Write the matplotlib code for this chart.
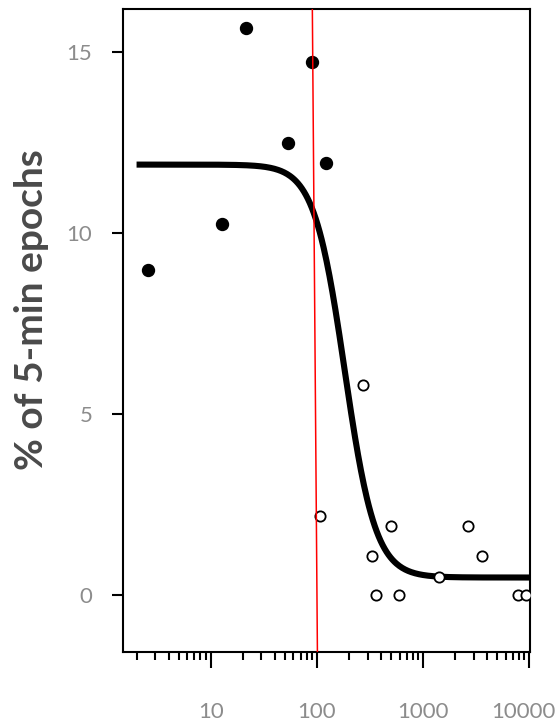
import numpy as np
import matplotlib
matplotlib.use("Agg")
import matplotlib.pyplot as plt
import matplotlib.transforms as mtransforms
from matplotlib.ticker import FixedLocator, NullFormatter

# ---- data ----
filled_x = [2.58, 12.8, 21.7, 53.2, 89.8, 123]
filled_y = [9.0, 10.27, 15.67, 12.50, 14.73, 11.94]

open_x = [107, 273, 328, 358, 495, 594, 1426, 2670, 3550, 7760, 9310]
open_y = [2.20, 5.82, 1.09, 0.0, 1.91, 0.0, 0.51, 1.91, 1.09, 0.0, 0.0]

# fitted log-logistic curve parameters (upper, lower, slope, inflection)
fit_upper = 11.9
fit_lower = 0.49
fit_slope = 3.0
fit_ec50 = 183.0
fit_range = [2, 10000]

# threshold (red) line: x at top and bottom of the plot
thresh_x = [90.5, 101]

x_major = [10, 100, 1000, 10000]
x_major_labels = ["10", "100", "1000", "10000"]
y_major = [0, 5, 10, 15]
ylabel = "% of 5-min epochs"

xlim = (1.49, 10150)
ylim = (-1.56, 16.2)

plt.rcParams['font.family'] = ['Lato', 'DejaVu Sans']

fig = plt.figure(figsize=(5.57, 7.25), dpi=100)
ax = fig.add_axes([0.2208, 0.1011, 0.9515 - 0.2208, 0.9876 - 0.1011])
ax.set_xscale('log')
ax.set_xlim(*xlim)
ax.set_ylim(*ylim)

xs = np.logspace(np.log10(fit_range[0]), np.log10(fit_range[1]), 400)
ys = fit_lower + (fit_upper - fit_lower) / (1 + (xs / fit_ec50) ** fit_slope)
ax.plot(xs, ys, color='black', lw=4.4, solid_capstyle='butt', zorder=2)

ax.plot(filled_x, filled_y, 'o', color='black', ms=8.6, zorder=3)
ax.plot(open_x, open_y, 'o', mfc='white', mec='black', ms=7.4, mew=1.3, zorder=3)

ax.plot(thresh_x, [ylim[1], ylim[0]], color='red', lw=1.1, zorder=4)

# ticks
ax.xaxis.set_major_locator(FixedLocator(x_major))
ax.set_xticklabels(x_major_labels)
minors = [m * d for d in [1, 10, 100, 1000] for m in range(2, 10)]
ax.xaxis.set_minor_locator(FixedLocator(minors))
ax.xaxis.set_minor_formatter(NullFormatter())
ax.set_yticks(y_major)
ax.set_yticklabels([str(v) for v in y_major])

ax.tick_params(axis='x', which='major', length=11.3, width=1.5, pad=25,
               labelsize=16, labelcolor='#8c8c8c', direction='out')
ax.tick_params(axis='x', which='minor', length=5.5, width=1.5, direction='out')
ax.tick_params(axis='y', which='major', length=8, width=1.5, pad=14,
               labelsize=16, labelcolor='#8c8c8c', direction='out')

# nudge last x label so it fits inside the figure
last = ax.get_xticklabels()[-1]
last.set_transform(last.get_transform() +
                   mtransforms.ScaledTranslation(-6 / 100, 0, fig.dpi_scale_trans))

for s in ax.spines.values():
    s.set_linewidth(1.5)

fig.text(0.056, 0.573, ylabel, rotation=90, ha='center', va='center',
         fontsize=28, fontweight='bold', color='#4a4a4a')

fig.savefig('out.png', dpi=100)
